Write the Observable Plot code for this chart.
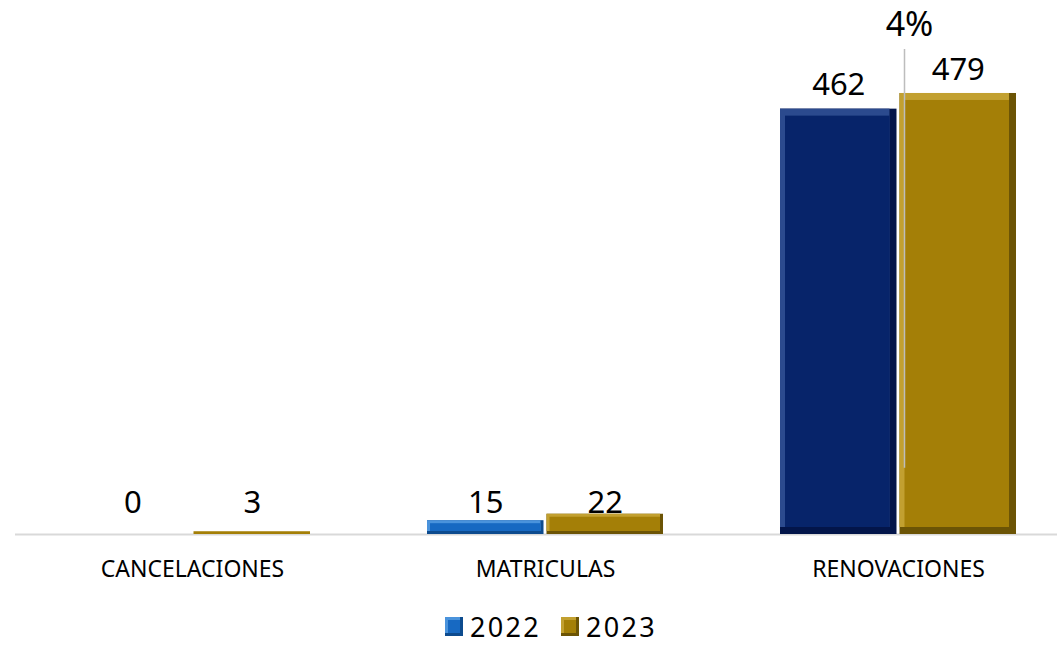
<!DOCTYPE html>
<html><head><meta charset="utf-8">
<script src="https://cdn.jsdelivr.net/npm/d3@7"></script>
<script src="https://cdn.jsdelivr.net/npm/@observablehq/plot@0.6"></script>
<style>
body{margin:0;background:#fff;font-family:"Noto Sans",sans-serif;overflow:hidden;}
#chart svg{display:block;}
#legend{display:flex;justify-content:center;align-items:center;margin-top:18px;height:37px;line-height:37px;padding-left:45px;font-size:27px;letter-spacing:2.3px;color:#000;}
.item{display:flex;align-items:center;margin:0 10px;}
.sw{width:18px;height:19px;margin-right:7px;box-sizing:border-box;}
</style></head><body>
<div id="chart"></div>
<div id="legend"></div>
<script>
const categories = ["CANCELACIONES", "MATRICULAS", "RENOVACIONES"];
const years = [2022, 2023];
const values2022 = [0, 15, 462];
const values2023 = [3, 22, 479];

const rows = [];
categories.forEach((c, i) => {
  rows.push({cat: c, year: 2022, v: values2022[i]});
  rows.push({cat: c, year: 2023, v: values2023[i]});
});

// style palettes: [main, highlight, shade]
const pal = {
  gold: ["#a47f07", "#c2a030", "#6c5405"],
  navy: ["#07246a", "#2b4a8e", "#03154a"],
  blue: ["#1769c2", "#4a93dc", "#0d4b8e"]
};
const palOf = d => d.year === 2023 ? pal.gold : (d.cat === "RENOVACIONES" ? pal.navy : pal.blue);

const half = 119.5;
function sideInsets(year, l, r) {
  return year === 2022 ? {insetLeft: l, insetRight: half + r} : {insetLeft: half + l, insetRight: r};
}
function barLayers(year) {
  const data = rows.filter(d => d.year === year && d.v > 0);
  const big = data.filter(d => d.v >= 100);
  const mid = data.filter(d => d.v >= 10 && d.v < 100);
  const tiny = data.filter(d => d.v < 10);
  return [
    Plot.barY(data.filter(d => d.v >= 10), {x: "cat", y: "v", fill: d => palOf(d)[2], ...sideInsets(year, 0, 0)}),
    Plot.barY(big, {x: "cat", y: "v", fill: d => palOf(d)[1], insetBottom: 7, ...sideInsets(year, 0, 7)}),
    Plot.barY(big, {x: "cat", y: "v", fill: d => palOf(d)[0], insetTop: 7, insetBottom: 7, ...sideInsets(year, 5, 7)}),
    Plot.barY(mid, {x: "cat", y: "v", fill: d => palOf(d)[1], insetBottom: 3, ...sideInsets(year, 0, 3)}),
    Plot.barY(mid, {x: "cat", y: "v", fill: d => palOf(d)[0], insetTop: 3, insetBottom: 3, ...sideInsets(year, 3, 3)}),
    Plot.barY(tiny, {x: "cat", y: "v", fill: d => palOf(d)[0], ...sideInsets(year, 0, 0)})
  ];
}

const maxV = Math.max(...values2023, ...values2022);
const ren = categories.indexOf("RENOVACIONES");
const growth = Math.round((values2023[ren] - values2022[ren]) / values2022[ren] * 100);
const ann = [{cat: "RENOVACIONES", label: growth + "%", top: maxV * 1.1, bottom: maxV * 0.15, ty: maxV * 1.13}];
const labelY = d => d.v >= 100 ? d.v + 15 : 23;

const chart = Plot.plot({
  width: 1057,
  height: 590,
  marginLeft: 15,
  marginRight: -18,
  marginTop: 0,
  marginBottom: 56,
  style: {fontFamily: "'Noto Sans', sans-serif", color: "#000", background: "#fff"},
  x: {domain: categories, paddingInner: 0.332, paddingOuter: 0.166, axis: null},
  y: {domain: [0, 580], axis: null},
  marks: [
    Plot.ruleY([0], {stroke: "#d9d9d9", strokeWidth: 2}),
    ...barLayers(2022),
    ...barLayers(2023),
    Plot.text(rows.filter(d => d.year === 2022), {x: "cat", y: labelY, text: d => String(d.v), dx: -59.75, lineAnchor: "bottom", fontSize: 31, fill: "#000"}),
    Plot.text(rows.filter(d => d.year === 2023), {x: "cat", y: labelY, text: d => String(d.v), dx: 59.75, lineAnchor: "bottom", fontSize: 31, fill: "#000"}),
    Plot.ruleX(ann, {x: "cat", y1: "bottom", y2: "top", dx: 6, stroke: "#bdbdbd", strokeWidth: 1.5}),
    Plot.text(ann, {x: "cat", y: "ty", text: "label", dx: 11, lineAnchor: "bottom", fontSize: 34, fill: "#000"}),
    Plot.axisX({anchor: "bottom", tickSize: 0, tickPadding: 26, fontSize: 23, label: null})
  ]
});
document.getElementById("chart").appendChild(chart);

const legend = document.getElementById("legend");
years.forEach(y => {
  const p = y === 2023 ? pal.gold : pal.blue;
  const it = document.createElement("div");
  it.className = "item";
  const sw = document.createElement("div");
  sw.className = "sw";
  sw.style.background = p[0];
  sw.style.boxShadow = `inset -3px -3px 0 ${p[2]}, inset 3px 3px 0 ${p[1]}`;
  const t = document.createElement("span");
  t.textContent = y;
  it.appendChild(sw); it.appendChild(t);
  legend.appendChild(it);
});
</script>
</body></html>
